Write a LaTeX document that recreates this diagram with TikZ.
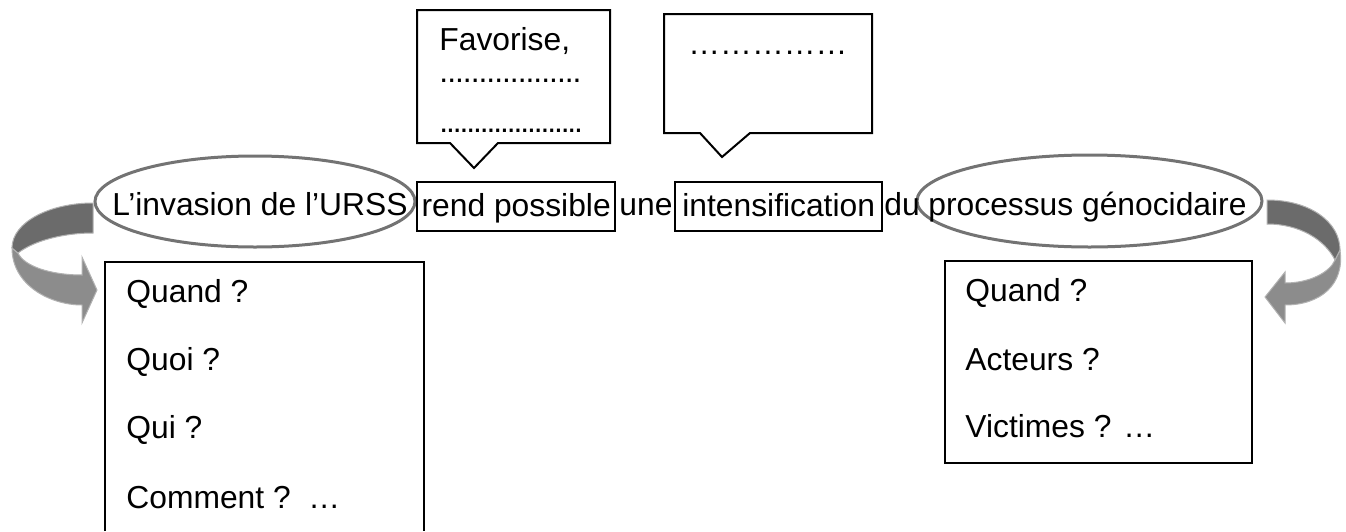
\documentclass[tikz,border=0pt]{standalone}
\usepackage{fontspec}
\setmainfont{Liberation Sans}
\newcommand\pdA{.\kern-0.5pt}
\newcommand\pdB{.\kern-1.05pt}
\begin{document}
\begin{tikzpicture}[x=0.5pt,y=-0.5pt,
  txt/.style={anchor=base west, inner sep=0pt, font=\fontsize{15.9}{18}\selectfont},
  wordbox/.style={draw, line width=1.2pt, inner sep=0pt, minimum width=#1,
    text height=17pt, text depth=7.5pt, anchor=north west,
    font=\fontsize{15.9}{18}\selectfont},
  oval/.style={draw=black!55, line width=1.5pt},
  qbox/.style={draw, line width=0.7pt},
  callout/.style={draw, line width=1pt, fill=white, line join=miter},
  arrdark/.style={fill=black!58, draw=black!30, line width=0.5pt},
  arrlight/.style={fill=black!45, draw=black!30, line width=0.5pt}
]
\useasboundingbox (0,0) rectangle (1346,531);

% callouts
\draw[callout] (417,10) -- (610,10) -- (610,143) -- (498,143) -- (474,168) -- (450,143) -- (417,143) -- cycle;
\draw[callout] (664,14) -- (872,14) -- (872,133) -- (750,133) -- (722,157) -- (700,133) -- (664,133) -- cycle;
\node[txt] (fav) at (439,50) {Favorise,};
\node[txt] (d1) at (439,82) {\pdA\pdA\pdA\pdA\pdA\pdA\pdA\pdA\pdA\pdA\pdA\pdA\pdA\pdA\pdA\pdA\pdA.};
\node[txt] (d2) at (439,132) {\pdB\pdB\pdB\pdB\pdB\pdB\pdB\pdB\pdB\pdB\pdB\pdB\pdB\pdB\pdB\pdB\pdB\pdB\pdB\pdB.};
\node[txt] (d3) at (688,54) {……………};

% ovals
\draw[oval] (255,201.5) ellipse [x radius=160, y radius=45.5];
\draw[oval] (1089.5,201) ellipse [x radius=172.5, y radius=46];

% main sentence
\node[txt] (w1) at (112,215) {L’invasion de l’URSS};
\node[wordbox=99pt] (w2) at (416,181) {rend possible};
\node[txt] (w3) at (619,215) {une};
\node[wordbox=103.5pt] (w4) at (674,181) {intensification};
\node[txt] (w5) at (884,215) {du};
\node[txt] (w6) at (928,215) {processus génocidaire};

% left curved arrow
\path[arrlight] (12,248) .. controls (12,285) and (50,305) .. (82,305) -- (82,323) -- (97,290)
  -- (82,257) -- (82,275) .. controls (50,275) and (24,266) .. (18,253) -- cycle;
\path[arrdark] (93,203) .. controls (50,203) and (12,222) .. (12,248) -- (18,253)
  .. controls (35,240) and (65,233) .. (93,233) -- cycle;

% right curved arrow
\path[arrlight] (1340,250) .. controls (1345,285) and (1320,305) .. (1285,305) -- (1285,323) -- (1265,297)
  -- (1285,272) -- (1285,283) .. controls (1310,283) and (1330,272) .. (1335,260) -- cycle;
\path[arrdark] (1267,200) .. controls (1310,200) and (1340,222) .. (1340,250) -- (1335,260)
  .. controls (1325,240) and (1300,224) .. (1267,224) -- cycle;

% question boxes
\draw[qbox] (105,531) -- (105,262) -- (424,262) -- (424,531);
\node[txt] (l1) at (126,302) {Quand ?};
\node[txt] (l2) at (126,370) {Quoi ?};
\node[txt] (l3) at (126,438) {Qui ?};
\node[txt] (l4) at (126,508) {Comment ?\ \ …};

\draw[qbox] (945,261) rectangle (1252,463);
\node[txt] (r1) at (965,301) {Quand ?};
\node[txt] (r2) at (965,370) {Acteurs ?};
\node[txt] (r3) at (965,437) {Victimes ? …};
\end{tikzpicture}
\end{document}
